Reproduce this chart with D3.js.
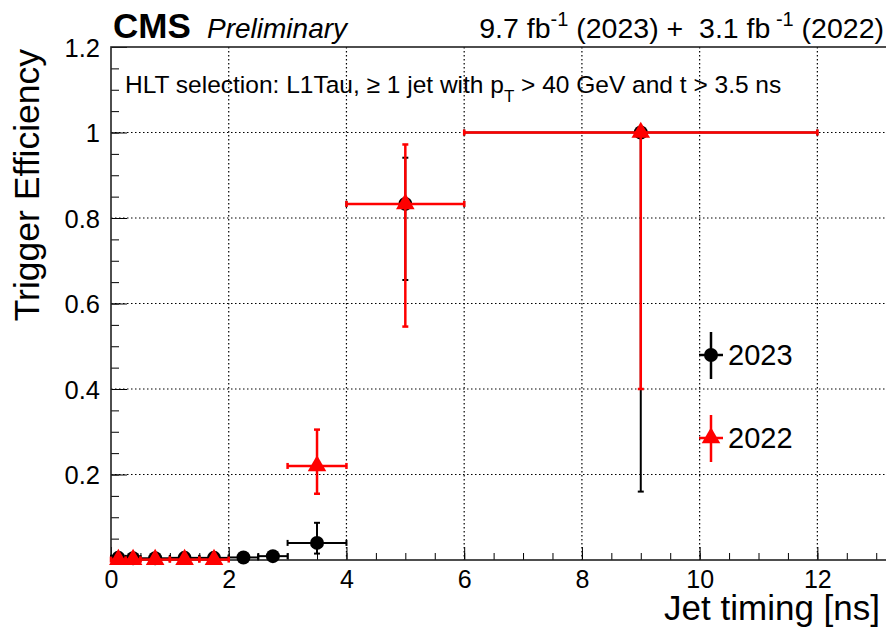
<!DOCTYPE html>
<html>
<head>
    <script src="https://cdn.jsdelivr.net/npm/d3@7"></script>
    <style>
        body { margin: 0; background: #fff; }
        text { font-family: "Liberation Sans", Arial, Helvetica, sans-serif; }
    </style>
</head>
<body>
    <svg width="886" height="630"></svg>
    <script>
        // 2023 data (black circles)
        const x2023 = [0.125, 0.375, 0.75, 1.25, 1.75, 2.25, 2.75, 3.5, 5, 9];
        const halfBin2023 = [0.125, 0.125, 0.25, 0.25, 0.25, 0.25, 0.25, 0.5, 1, 3];
        const eff2023 = [0.005, 0.004, 0.004, 0.005, 0.005, 0.006, 0.009, 0.04, 0.833, 1.0];
        const errLo2023 = [0.003, 0.003, 0.003, 0.003, 0.003, 0.004, 0.005, 0.025, 0.178, 0.84];
        const errHi2023 = [0.004, 0.004, 0.004, 0.004, 0.004, 0.005, 0.006, 0.047, 0.108, 0];

        // 2022 data (red triangles)
        const x2022 = [0.125, 0.375, 0.75, 1.25, 1.75, 3.5, 5, 9];
        const halfBin2022 = [0.125, 0.125, 0.25, 0.25, 0.25, 0.5, 1, 3];
        const eff2022 = [0.001, 0.001, 0.001, 0.001, 0.001, 0.22, 0.833, 1.0];
        const errLo2022 = [0.001, 0.001, 0.001, 0.001, 0.001, 0.065, 0.287, 0.6];
        const errHi2022 = [0.002, 0.002, 0.002, 0.002, 0.002, 0.085, 0.139, 0];

        const xMajorTicks = [0, 2, 4, 6, 8, 10, 12];
        const yMajorTicks = [0.2, 0.4, 0.6, 0.8, 1.0, 1.2];

        const svg = d3.select("svg");
        const margin = { top: 47, right: 0, bottom: 70, left: 111 };
        const width = 888 - margin.left;
        const height = 630 - margin.top - margin.bottom;

        const x = d3.scaleLinear().domain([0, 13.2]).range([0, width]);
        const y = d3.scaleLinear().domain([0, 1.2]).range([height, 0]);

        const g = svg.append("g").attr("transform", `translate(${margin.left},${margin.top})`);

        // dotted grid
        g.append("g").selectAll("line")
            .data(xMajorTicks.filter(d => d > 0))
            .enter().append("line")
            .attr("x1", d => x(d)).attr("x2", d => x(d))
            .attr("y1", 0).attr("y2", height)
            .attr("stroke", "#000").attr("stroke-width", 1.2)
            .attr("stroke-dasharray", "1.5,2.5");
        g.append("g").selectAll("line")
            .data(yMajorTicks.filter(d => d < 1.2))
            .enter().append("line")
            .attr("x1", 0).attr("x2", width)
            .attr("y1", d => y(d)).attr("y2", d => y(d))
            .attr("stroke", "#000").attr("stroke-width", 1.2)
            .attr("stroke-dasharray", "1.5,2.5");

        // axes, ROOT style ticks pointing inward
        const xMinor = d3.range(0, 13.01, 0.5);
        const yMinor = d3.range(0, 1.201, 0.05);

        g.append("g").attr("transform", `translate(0,${height})`)
            .call(d3.axisBottom(x).tickValues(xMinor).tickSize(-7).tickFormat(""))
            .call(a => a.select(".domain").remove());
        g.append("g").attr("transform", `translate(0,${height})`)
            .call(d3.axisBottom(x).tickValues(xMajorTicks).tickSize(-13).tickPadding(10).tickFormat(d3.format("d")))
            .call(a => a.select(".domain").remove())
            .call(a => a.selectAll("text").attr("font-size", 25).attr("fill", "#000")
                .style("font-family", "'Liberation Sans', Arial, sans-serif"));

        g.append("g")
            .call(d3.axisLeft(y).tickValues(yMinor).tickSize(-8).tickFormat(""))
            .call(a => a.select(".domain").remove());
        g.append("g")
            .call(d3.axisLeft(y).tickValues(yMajorTicks).tickSize(-16).tickPadding(11).tickFormat(d => d === 1 ? "1" : d3.format(".1f")(d)))
            .call(a => a.select(".domain").remove())
            .call(a => a.selectAll("text").attr("font-size", 25.5).attr("fill", "#000").attr("dy", "0.36em")
                .style("font-family", "'Liberation Sans', Arial, sans-serif"));

        // frame
        g.append("rect")
            .attr("x", 0).attr("y", 0).attr("width", width).attr("height", height)
            .attr("fill", "none").attr("stroke", "#222").attr("stroke-width", 1.6);

        // draw a graph with asymmetric errors
        function drawGraph(xs, hw, vals, lo, hi, color, lw, marker) {
            const pts = xs.map((d, i) => ({ x: d, hw: hw[i], v: vals[i], lo: lo[i], hi: hi[i] }));
            const grp = g.append("g").attr("stroke", color).attr("stroke-width", lw);
            const cap = 3;
            pts.forEach(p => {
                const cx = x(p.x), cy = y(p.v);
                grp.append("line").attr("x1", x(p.x - p.hw)).attr("x2", x(p.x + p.hw)).attr("y1", cy).attr("y2", cy);
                grp.append("line").attr("x1", x(p.x - p.hw)).attr("x2", x(p.x - p.hw)).attr("y1", cy - cap).attr("y2", cy + cap);
                grp.append("line").attr("x1", x(p.x + p.hw)).attr("x2", x(p.x + p.hw)).attr("y1", cy - cap).attr("y2", cy + cap);
                if (p.lo + p.hi > 0.02) {
                    grp.append("line").attr("x1", cx).attr("x2", cx).attr("y1", y(p.v - p.lo)).attr("y2", y(p.v + p.hi));
                    if (p.hi > 0) grp.append("line").attr("x1", cx - cap).attr("x2", cx + cap).attr("y1", y(p.v + p.hi)).attr("y2", y(p.v + p.hi));
                    grp.append("line").attr("x1", cx - cap).attr("x2", cx + cap).attr("y1", y(p.v - p.lo)).attr("y2", y(p.v - p.lo));
                }
            });
            g.append("g").selectAll("path")
                .data(pts).enter().append("path")
                .attr("transform", d => `translate(${x(d.x)},${y(d.v)})`)
                .attr("d", marker)
                .attr("fill", color);
        }

        const circle = d3.symbol().type(d3.symbolCircle).size(Math.PI * 49)();
        const triangle = d3.symbol().type(d3.symbolTriangle).size(150)();

        drawGraph(x2023, halfBin2023, eff2023, errLo2023, errHi2023, "#000", 2, circle);
        drawGraph(x2022, halfBin2022, eff2022, errLo2022, errHi2022, "#f00", 2.5, triangle);

        // legend
        const legend = svg.append("g");
        const legendItems = [
            { label: "2023", color: "#000", marker: circle, cy: 355, lw: 2.5 },
            { label: "2022", color: "#f00", marker: triangle, cy: 438, lw: 2.5 }
        ];
        legendItems.forEach(it => {
            legend.append("line").attr("x1", 711).attr("x2", 711).attr("y1", it.cy - 23).attr("y2", it.cy + 24)
                .attr("stroke", it.color).attr("stroke-width", it.lw);
            legend.append("line").attr("x1", 699).attr("x2", 723).attr("y1", it.cy).attr("y2", it.cy)
                .attr("stroke", it.color).attr("stroke-width", it.lw);
            legend.append("path").attr("transform", `translate(711,${it.cy})`).attr("d", it.marker).attr("fill", it.color);
            legend.append("text").attr("x", 728).attr("y", it.cy + 10).attr("font-size", 29).text(it.label);
        });

        // axis titles
        svg.append("text")
            .attr("transform", "translate(39,49) rotate(-90)")
            .attr("text-anchor", "end")
            .attr("font-size", 35.5)
            .text("Trigger Efficiency");
        svg.append("text")
            .attr("x", 880).attr("y", 620)
            .attr("text-anchor", "end")
            .attr("font-size", 35)
            .text("Jet timing [ns]");

        // header
        svg.append("text").attr("x", 113).attr("y", 38).attr("font-size", 35).attr("font-weight", "bold").text("CMS");
        svg.append("text").attr("x", 207).attr("y", 38).attr("font-size", 28).attr("font-style", "italic").text("Preliminary");

        const lumi = svg.append("text").attr("x", 884).attr("y", 38).attr("font-size", 28.5)
            .attr("text-anchor", "end").style("white-space", "pre");
        lumi.append("tspan").text("9.7 fb");
        lumi.append("tspan").attr("dy", -12).attr("font-size", 20).text("-1");
        lumi.append("tspan").attr("dy", 12).text(" (2023) +  3.1 fb");
        lumi.append("tspan").attr("dy", -12).attr("font-size", 20).text(" -1");
        lumi.append("tspan").attr("dy", 12).text(" (2022)");

        const sel = svg.append("text").attr("x", 125).attr("y", 93).attr("font-size", 24.5);
        sel.append("tspan").text("HLT selection: L1Tau, \u2265 1 jet with p");
        sel.append("tspan").attr("dy", 9).attr("font-size", 17).text("T");
        sel.append("tspan").attr("dy", -9).text(" > 40 GeV and t > 3.5 ns");
    </script>
</body>
</html>
